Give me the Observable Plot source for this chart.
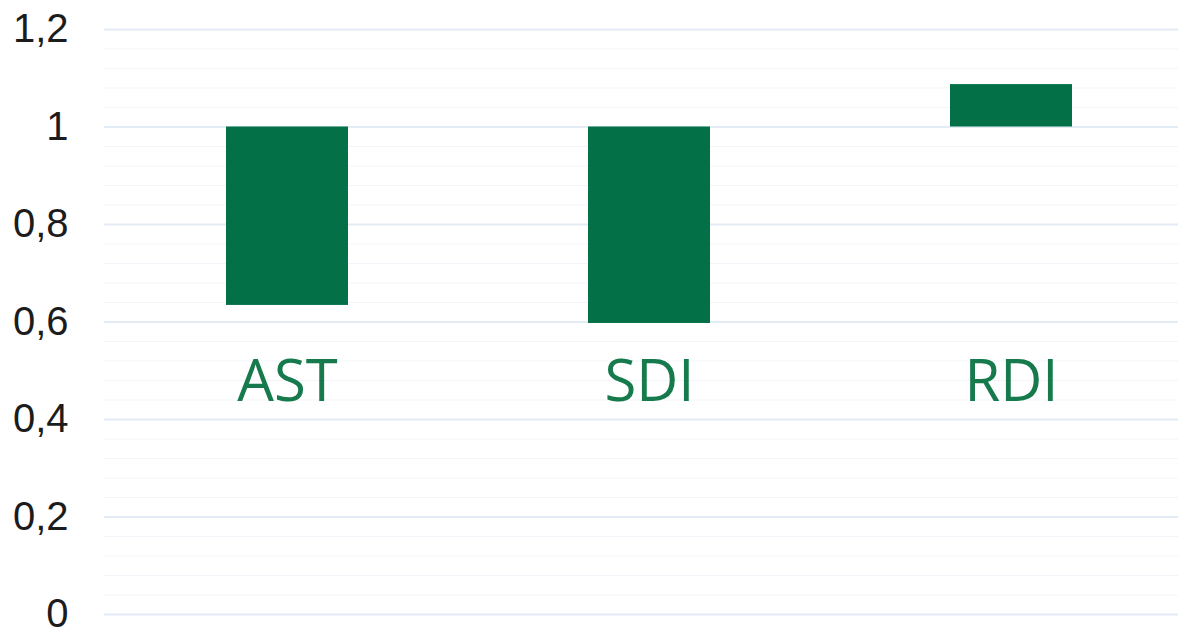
<!DOCTYPE html>
<html>
<head>
<meta charset="utf-8">
<script src="https://cdn.jsdelivr.net/npm/d3@7"></script>
<script src="https://cdn.jsdelivr.net/npm/@observablehq/plot@0.6"></script>
<style>
  html, body { margin: 0; padding: 0; background: #ffffff; }
  #chart svg { display: block; }
</style>
</head>
<body>
<div id="chart"></div>
<script>
const categories = ["AST", "SDI", "RDI"];
const values = [0.634, 0.597, 1.087];
const baseline = 1;
const yTicks = [0, 0.2, 0.4, 0.6, 0.8, 1, 1.2];
const minorTicks = [0.04, 0.08, 0.12, 0.16, 0.24, 0.28, 0.32, 0.36, 0.44, 0.48, 0.52, 0.56,
  0.64, 0.68, 0.72, 0.76, 0.84, 0.88, 0.92, 0.96, 1.04, 1.08, 1.12, 1.16];

const data = categories.map((c, i) => ({category: c, value: values[i], base: baseline}));

const chart = Plot.plot({
  width: 1178,
  height: 630,
  marginLeft: 104,
  marginRight: 0,
  marginTop: 29,
  marginBottom: 16,
  style: {fontFamily: "'Liberation Sans', Arial, sans-serif", background: "#ffffff"},
  x: {domain: categories, paddingInner: 0.664, paddingOuter: 0.3115, align: 0.535},
  y: {domain: [0, 1.2]},
  marks: [
    Plot.gridY(minorTicks, {stroke: "#f1f5f9", strokeOpacity: 1, strokeWidth: 1.2}),
    Plot.gridY(yTicks, {stroke: "#e3ecf5", strokeOpacity: 1, strokeWidth: 2}),
    Plot.barY(data, {x: "category", y1: "base", y2: "value", fill: "#037047"}),
    Plot.axisY(yTicks, {
      tickSize: 0, tickPadding: 36, fontSize: 40, fill: "#1c1c1c",
      tickFormat: d => String(d).replace(".", ","), label: null
    }),
    Plot.axisX({
      anchor: "bottom", tickSize: 0, tickPadding: 0, lineAnchor: "bottom", dy: -214,
      fontSize: 58, fill: "#167a4c", label: null,
      fontFamily: "'Open Sans', sans-serif"
    })
  ]
});
document.getElementById("chart").appendChild(chart);
</script>
</body>
</html>
